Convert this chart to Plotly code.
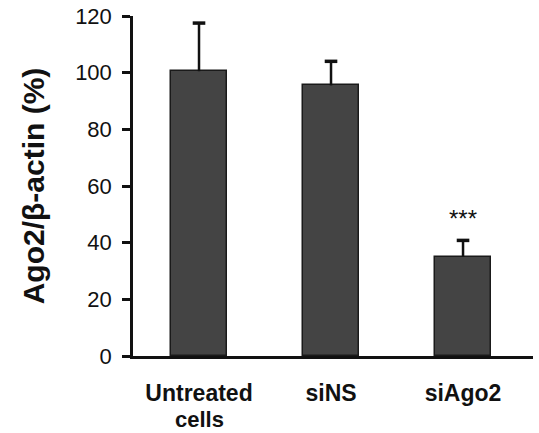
import plotly.graph_objects as go

categories = ["Untreated", "siNS", "siAgo2"]
second_line = ["cells", "", ""]
values = [100.5, 95.5, 35.0]
errors = [17.0, 8.5, 5.8]
annotations_text = ["", "", "***"]
y_ticks = [0, 20, 40, 60, 80, 100, 120]

tops = [v + e for v, e in zip(values, errors)]

fig = go.Figure()
fig.add_trace(go.Bar(
    x=categories, y=values,
    width=0.42,
    marker=dict(color="#444444", line=dict(color="#1a1a1a", width=1.5)),
    error_y=dict(type="data", array=errors, arrayminus=[0, 0, 0], symmetric=False,
                 color="#111111", thickness=2.5, width=0),
))
# error bar caps
fig.add_trace(go.Scatter(
    x=categories, y=tops, mode="markers",
    marker=dict(symbol="line-ew", size=9, line=dict(color="#111111", width=3.5)),
    hoverinfo="skip",
))

for c, t, txt in zip(categories, tops, annotations_text):
    if txt:
        fig.add_annotation(x=c, y=t, text=txt, showarrow=False, yshift=22,
                           font=dict(family="Arial, Liberation Sans", size=24, color="#111"))

for c, txt in zip(categories, second_line):
    if txt:
        fig.add_annotation(x=c, y=0, text="<b>" + txt + "</b>", showarrow=False,
                           yanchor="middle", yshift=-63,
                           font=dict(family="Arial, Liberation Sans", size=22, color="#111"))

fig.update_layout(
    width=539, height=433,
    margin=dict(l=133, r=6, t=16, b=77),
    paper_bgcolor="white", plot_bgcolor="white",
    showlegend=False,
    bargap=0,
    font=dict(family="Arial, Liberation Sans", color="#111"),
)
fig.update_xaxes(
    range=[-0.5, 2.53],
    tickvals=categories,
    ticktext=["<b>" + c + "</b>" for c in categories],
    showline=True, linecolor="#111", linewidth=2.5,
    ticks="", showgrid=False, zeroline=False,
    tickfont=dict(size=23, color="#111"),
    ticklabelstandoff=15,
    automargin=False,
)
fig.update_yaxes(
    range=[0, 120],
    tickvals=y_ticks,
    showline=True, linecolor="#111", linewidth=2.5,
    ticks="outside", ticklen=8, tickwidth=2.5, tickcolor="#111",
    showgrid=False, zeroline=False,
    tickfont=dict(size=22, color="#111"),
    ticklabelstandoff=6,
    title=dict(text="<b>Ago2/β-actin (%)</b>", font=dict(size=30, color="#111"), standoff=22),
    automargin=False,
)

fig.write_html("out.html")
